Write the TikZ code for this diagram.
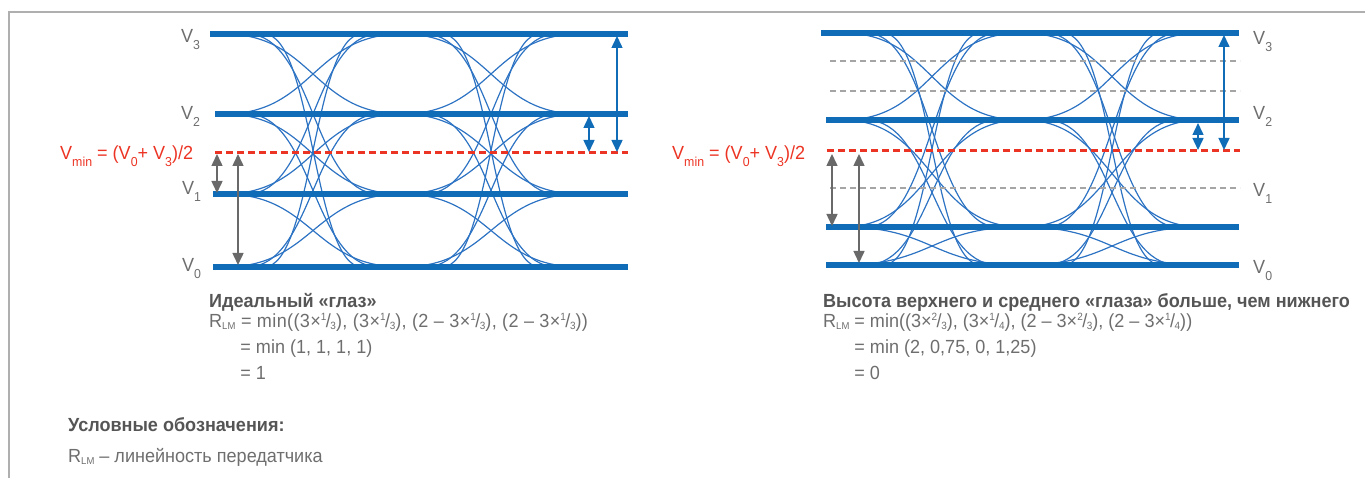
\documentclass[tikz,border=0pt]{standalone}
\usepackage{fontspec}
\setmainfont{Liberation Sans}[FakeStretch=0.95]
\usetikzlibrary{arrows.meta}

\definecolor{lineblue}{RGB}{16,108,183}
\definecolor{traceblue}{RGB}{45,115,195}
\definecolor{vminred}{RGB}{236,52,36}
\definecolor{dashgray}{RGB}{165,165,165}
\definecolor{arrowgray}{RGB}{105,105,105}
\definecolor{textgray}{RGB}{110,110,110}
\definecolor{capgray}{RGB}{85,85,85}
\definecolor{framegray}{RGB}{175,175,175}

% lowered subscripts and small fractions
\newcommand{\vsub}[1]{\raisebox{-7pt}{\fontsize{13}{13}\selectfont #1}}
\newcommand{\rsub}[1]{\raisebox{-2.5pt}{\fontsize{10}{10}\selectfont #1}}
\newcommand{\frc}[2]{\raisebox{7pt}{\fontsize{10.5}{10.5}\selectfont #1}\kern-0.5pt/\kern-0.5pt\raisebox{-2.5pt}{\fontsize{10.5}{10.5}\selectfont #2}}

\begin{document}
\begin{tikzpicture}[x=1pt, y=-1pt,
    levelline/.style={draw=lineblue, line width=5.5pt},
    traceline/.style={draw=traceblue, line width=1.2pt},
    threshline/.style={draw=vminred, line width=3pt, dash pattern=on 7pt off 4pt},
    graydash/.style={draw=dashgray, line width=2.5pt, dash pattern=on 6pt off 4pt},
    gaugegray/.style={draw=arrowgray, line width=1.5pt, {Triangle[width=11pt,length=12pt]}-{Triangle[width=11pt,length=12pt]}},
    gaugeblue/.style={draw=lineblue, line width=1.5pt, {Triangle[width=11pt,length=12pt]}-{Triangle[width=11pt,length=12pt]}},
    lbl/.style={anchor=base west, inner sep=0pt, text=textgray, font=\fontsize{19}{22}\selectfont},
    redlbl/.style={lbl, text=vminred},
    captxt/.style={lbl, text=capgray, font=\fontsize{19}{22}\selectfont\bfseries}]
    \useasboundingbox (0,0) rectangle (1365,478);

    % Frame
    \draw[framegray, line width=1.5pt] (9,478) -- (9,12) -- (1365,12);

    % Left eye: transitions
    \foreach \ya/\ia in {34/3,114/2,194/1,267/0}
      \foreach \yb/\ib in {34/3,114/2,194/1,267/0}{
        \ifnum\ia=\ib\else
          \pgfmathsetmacro\dd{118-32*abs(\ia-\ib)+3*(\ia-\ib)^2}
          \draw[traceline] (313-\dd,\ya) .. controls (313,\ya) and (313,\yb) .. (313+\dd,\yb);
          \draw[traceline] (491-\dd,\ya) .. controls (491,\ya) and (491,\yb) .. (491+\dd,\yb);
        \fi
      }

    % Left eye: levels
    \draw[levelline] (210,34) -- (628,34);
    \draw[levelline] (215,114) -- (628,114);
    \draw[levelline] (213,194) -- (628,194);
    \draw[levelline] (213,267) -- (628,267);
    \draw[threshline] (215,153) -- (628,153);

    \node[lbl] (lv3) at (181,43) {V\vsub{3}};
    \node[lbl] (lv2) at (181,120) {V\vsub{2}};
    \node[lbl] (lv1) at (182,195) {V\vsub{1}};
    \node[lbl] (lv0) at (182,272) {V\vsub{0}};
    \node[redlbl] (lvmin) at (60,160) {V\vsub{min} = (V\vsub{0}+ V\vsub{3})/2};

    \coordinate (lga) at (217,154);
    \coordinate (lgb) at (217,193);
    \coordinate (lgc) at (238,154);
    \coordinate (lgd) at (238,265);
    \coordinate (lba) at (589,116);
    \coordinate (lbb) at (589,152);
    \coordinate (lbc) at (617,36);
    \coordinate (lbd) at (617,152);
    \draw[gaugegray] (lga) -- (lgb);
    \draw[gaugegray] (lgc) -- (lgd);
    \draw[gaugeblue] (lba) -- (lbb);
    \draw[gaugeblue] (lbc) -- (lbd);

    % Right eye: transitions
    \foreach \ya/\ia in {33/3,120/2,227/1,265/0}
      \foreach \yb/\ib in {33/3,120/2,227/1,265/0}{
        \ifnum\ia=\ib\else
          \pgfmathsetmacro\dd{118-32*abs(\ia-\ib)+3*(\ia-\ib)^2}
          \draw[traceline] (932-\dd,\ya) .. controls (932,\ya) and (932,\yb) .. (932+\dd,\yb);
          \draw[traceline] (1112-\dd,\ya) .. controls (1112,\ya) and (1112,\yb) .. (1112+\dd,\yb);
        \fi
      }

    % Right eye: levels
    \draw[graydash] (830,61) -- (1240,61);
    \draw[graydash] (830,91) -- (1240,91);
    \draw[graydash] (830,188) -- (1240,188);
    \draw[levelline] (821,33) -- (1239,33);
    \draw[levelline] (826,120) -- (1239,120);
    \draw[levelline] (826,227) -- (1239,227);
    \draw[levelline] (826,265) -- (1239,265);
    \draw[threshline] (827,151) -- (1240,151);

    \node[lbl] (rv3) at (1253,45) {V\vsub{3}};
    \node[lbl] (rv2) at (1253,120) {V\vsub{2}};
    \node[lbl] (rv1) at (1253,197) {V\vsub{1}};
    \node[lbl] (rv0) at (1253,273) {V\vsub{0}};
    \node[redlbl] (rvmin) at (672,160) {V\vsub{min} = (V\vsub{0}+ V\vsub{3})/2};

    \coordinate (rga) at (832,154);
    \coordinate (rgb) at (832,226);
    \coordinate (rgc) at (859,154);
    \coordinate (rgd) at (859,263);
    \coordinate (rba) at (1198,123);
    \coordinate (rbb) at (1198,150);
    \coordinate (rbc) at (1224,35);
    \coordinate (rbd) at (1224,150);
    \draw[gaugegray] (rga) -- (rgb);
    \draw[gaugegray] (rgc) -- (rgd);
    \draw[gaugeblue] (rba) -- (rbb);
    \draw[gaugeblue] (rbc) -- (rbd);

    % Captions and formulas
    \node[captxt] (lcap) at (209,307) {Идеальный «глаз»};
    \node[lbl] (lf1) at (209,327) {\addfontfeatures{LetterSpace=2}R\rsub{LM} = min((3×\frc{1}{3}), (3×\frc{1}{3}), (2 – 3×\frc{1}{3}), (2 – 3×\frc{1}{3}))};
    \node[lbl] (lf2) at (209,353) {\phantom{R\rsub{LM}} = min (1, 1, 1, 1)};
    \node[lbl] (lf3) at (209,379) {\phantom{R\rsub{LM}} = 1};

    \node[captxt] (rcap) at (823,307) {Высота верхнего и среднего «глаза» больше, чем нижнего};
    \node[lbl] (rf1) at (823,327) {R\rsub{LM} = min((3×\frc{2}{3}), (3×\frc{1}{4}), (2 – 3×\frc{2}{3}), (2 – 3×\frc{1}{4}))};
    \node[lbl] (rf2) at (823,353) {\phantom{R\rsub{LM}} = min (2, 0,75, 0, 1,25)};
    \node[lbl] (rf3) at (823,379) {\phantom{R\rsub{LM}} = 0};

    % Legend
    \node[captxt] (legcap) at (68,431) {Условные обозначения:};
    \node[lbl] (legrlm) at (68,462) {R\rsub{LM} – линейность передатчика};
\end{tikzpicture}
\end{document}
